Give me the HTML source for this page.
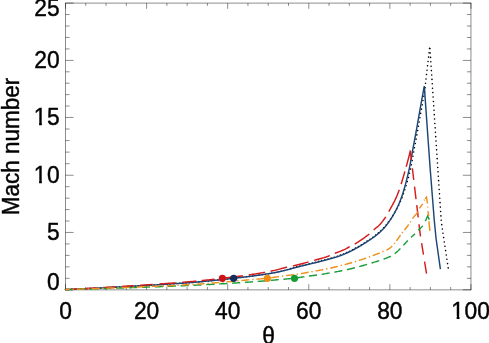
<!DOCTYPE html>
<html><head><meta charset="utf-8"><title>Mach number vs theta</title>
<style>
html,body{margin:0;padding:0;background:#fff;}
body{width:489px;height:343px;overflow:hidden;position:relative;font-family:"Liberation Sans",sans-serif;}
</style></head><body>
<svg width="489" height="343" viewBox="0 0 489 343" style="position:absolute;left:0;top:0">
<g stroke="#000" stroke-width="0.45" fill="none">
<path d="M65.50,2.85V290.10"/>
<path d="M470.95,2.85V290.10"/>
<path d="M65.25,3.10H471.20"/>
<path d="M65.25,289.85H471.20"/>
<path d="M65.50,289.85v-5.70M65.50,3.10v5.70M85.77,289.85v-2.85M85.77,3.10v2.85M106.05,289.85v-2.85M106.05,3.10v2.85M126.32,289.85v-2.85M126.32,3.10v2.85M146.59,289.85v-5.70M146.59,3.10v5.70M166.86,289.85v-2.85M166.86,3.10v2.85M187.13,289.85v-2.85M187.13,3.10v2.85M207.41,289.85v-2.85M207.41,3.10v2.85M227.68,289.85v-5.70M227.68,3.10v5.70M247.95,289.85v-2.85M247.95,3.10v2.85M268.23,289.85v-2.85M268.23,3.10v2.85M288.50,289.85v-2.85M288.50,3.10v2.85M308.77,289.85v-5.70M308.77,3.10v5.70M329.04,289.85v-2.85M329.04,3.10v2.85M349.31,289.85v-2.85M349.31,3.10v2.85M369.59,289.85v-2.85M369.59,3.10v2.85M389.86,289.85v-5.70M389.86,3.10v5.70M410.13,289.85v-2.85M410.13,3.10v2.85M430.40,289.85v-2.85M430.40,3.10v2.85M450.68,289.85v-2.85M450.68,3.10v2.85M470.95,289.85v-5.70M470.95,3.10v5.70M65.50,289.85h8.10M470.95,289.85h-8.10M65.50,278.33h4.05M470.95,278.33h-4.05M65.50,266.86h4.05M470.95,266.86h-4.05M65.50,255.39h4.05M470.95,255.39h-4.05M65.50,243.92h4.05M470.95,243.92h-4.05M65.50,232.45h8.10M470.95,232.45h-8.10M65.50,221.01h4.05M470.95,221.01h-4.05M65.50,209.57h4.05M470.95,209.57h-4.05M65.50,198.13h4.05M470.95,198.13h-4.05M65.50,186.69h4.05M470.95,186.69h-4.05M65.50,175.25h8.10M470.95,175.25h-8.10M65.50,163.69h4.05M470.95,163.69h-4.05M65.50,152.13h4.05M470.95,152.13h-4.05M65.50,140.57h4.05M470.95,140.57h-4.05M65.50,129.01h4.05M470.95,129.01h-4.05M65.50,117.45h8.10M470.95,117.45h-8.10M65.50,106.04h4.05M470.95,106.04h-4.05M65.50,94.63h4.05M470.95,94.63h-4.05M65.50,83.22h4.05M470.95,83.22h-4.05M65.50,71.81h4.05M470.95,71.81h-4.05M65.50,60.40h8.10M470.95,60.40h-8.10M65.50,48.93h4.05M470.95,48.93h-4.05M65.50,37.46h4.05M470.95,37.46h-4.05M65.50,25.99h4.05M470.95,25.99h-4.05M65.50,14.52h4.05M470.95,14.52h-4.05M65.50,3.10h8.10M470.95,3.10h-8.10" stroke-width="0.45"/>
</g>
<path d="M65.40,289.60l0.01,0M68.58,289.47l0.01,0M71.76,289.33l0.01,0M74.94,289.19l0.01,0M78.11,289.04l0.01,0M81.29,288.90l0.01,0M84.47,288.75l0.01,0M87.65,288.60l0.01,0M90.83,288.45l0.01,0M94.00,288.30l0.01,0M97.18,288.14l0.01,0M100.36,287.98l0.01,0M103.54,287.82l0.01,0M106.72,287.66l0.01,0M109.89,287.49l0.01,0M113.07,287.32l0.01,0M116.25,287.15l0.01,0M119.43,286.98l0.01,0M122.60,286.81l0.01,0M125.78,286.63l0.01,0M128.96,286.46l0.01,0M132.14,286.28l0.01,0M135.31,286.10l0.01,0M138.49,285.92l0.01,0M141.67,285.74l0.01,0M144.85,285.56l0.01,0M148.02,285.37l0.01,0M151.20,285.19l0.01,0M154.38,285.00l0.01,0M157.55,284.80l0.01,0M160.73,284.61l0.01,0M163.91,284.41l0.01,0M167.09,284.20l0.01,0M170.26,284.00l0.01,0M173.44,283.78l0.01,0M176.61,283.57l0.01,0M179.79,283.35l0.01,0M182.97,283.12l0.01,0M186.14,282.88l0.01,0M189.32,282.64l0.01,0M192.49,282.40l0.01,0M195.67,282.15l0.01,0M198.84,281.88l0.01,0M202.01,281.60l0.01,0M205.19,281.31l0.01,0M208.36,281.01l0.01,0M211.53,280.69l0.01,0M214.70,280.37l0.01,0M217.87,280.04l0.01,0M221.05,279.70l0.01,0M224.22,279.36l0.01,0M227.39,279.01l0.01,0M230.56,278.65l0.01,0M233.73,278.30l0.01,0M236.89,277.94l0.01,0M240.06,277.57l0.01,0M243.23,277.19l0.01,0M246.40,276.81l0.01,0M249.57,276.41l0.01,0M252.73,276.00l0.01,0M255.90,275.57l0.01,0M259.06,275.13l0.01,0M262.23,274.68l0.01,0M265.39,274.21l0.01,0M268.55,273.71l0.01,0M271.70,273.19l0.01,0M274.86,272.62l0.01,0M278.01,271.99l0.01,0M281.14,271.27l0.01,0M284.27,270.44l0.01,0M287.38,269.57l0.01,0M290.50,268.67l0.01,0M293.61,267.77l0.01,0M296.72,266.86l0.01,0M299.84,265.98l0.01,0M302.97,265.20l0.01,0M306.10,264.44l0.01,0M309.24,263.70l0.01,0M312.37,262.95l0.01,0M315.50,262.19l0.01,0M318.63,261.41l0.01,0M321.76,260.60l0.01,0M324.88,259.78l0.01,0M328.01,258.95l0.01,0M331.13,258.10l0.01,0M334.24,257.20l0.01,0M337.35,256.23l0.01,0M340.43,255.16l0.01,0M343.49,253.96l0.01,0M346.52,252.63l0.01,0M349.53,251.20l0.01,0M352.52,249.71l0.01,0M355.50,248.15l0.01,0M358.45,246.50l0.01,0M361.38,244.77l0.01,0M364.28,242.96l0.01,0M367.16,241.10l0.01,0M370.04,239.21l0.01,0M372.88,237.23l0.01,0M375.68,235.12l0.01,0M378.42,232.89l0.01,0M381.09,230.48l0.01,0M383.65,227.87l0.01,0M386.11,225.06l0.01,0M388.44,222.07l0.01,0M390.69,218.93l0.01,0M392.83,215.67l0.01,0M394.86,212.26l0.01,0M396.83,208.80l0.01,0M398.69,205.22l0.01,0M400.41,201.50l0.01,0M402.00,197.67l0.01,0M403.47,193.75l0.01,0M404.83,189.75l0.01,0M406.09,185.70l0.01,0M407.28,181.60l0.01,0M408.41,177.47l0.01,0M409.49,173.31l0.01,0M410.50,169.12l0.01,0M411.37,164.87l0.01,0M412.16,160.58l0.01,0M412.92,156.29l0.01,0M413.68,152.00l0.01,0M414.46,147.72l0.01,0M415.26,143.44l0.01,0M416.05,139.16l0.01,0M416.85,134.88l0.01,0M417.63,130.59l0.01,0M418.40,126.30l0.01,0M419.16,122.01l0.01,0M419.91,117.72l0.01,0M420.66,113.42l0.01,0M421.42,109.13l0.01,0M422.19,104.84l0.01,0M422.97,100.55l0.01,0M423.75,96.27l0.01,0M424.53,91.99l0.01,0M425.19,87.68l0.01,0M425.51,83.29l0.01,0M426.02,78.93l0.01,0M426.52,74.57l0.01,0M427.03,70.20l0.01,0M427.54,65.84l0.01,0M428.04,61.47l0.01,0M428.55,57.11l0.01,0M429.05,52.75l0.01,0M429.56,48.38l0.01,0M429.95,48.60l0.01,0M430.24,53.00l0.01,0M430.53,57.41l0.01,0M430.82,61.81l0.01,0M431.10,66.21l0.01,0M431.39,70.61l0.01,0M431.68,75.01l0.01,0M431.97,79.42l0.01,0M432.26,83.82l0.01,0M432.54,88.22l0.01,0M432.83,92.62l0.01,0M433.12,97.02l0.01,0M433.41,101.43l0.01,0M433.70,105.83l0.01,0M433.98,110.23l0.01,0M434.27,114.63l0.01,0M434.56,119.03l0.01,0M434.85,123.44l0.01,0M435.14,127.84l0.01,0M435.43,132.24l0.01,0M435.71,136.64l0.01,0M436.00,141.04l0.01,0M436.29,145.45l0.01,0M436.58,149.85l0.01,0M436.87,154.25l0.01,0M437.15,158.65l0.01,0M437.44,163.05l0.01,0M437.73,167.46l0.01,0M438.02,171.86l0.01,0M438.31,176.26l0.01,0M438.59,180.66l0.01,0M438.88,185.07l0.01,0M439.17,189.47l0.01,0M439.46,193.87l0.01,0M439.75,198.27l0.01,0M440.04,202.67l0.01,0M440.32,207.08l0.01,0M440.61,211.48l0.01,0M440.90,215.88l0.01,0M441.19,220.28l0.01,0M441.70,224.64l0.01,0M442.34,228.96l0.01,0M442.99,233.29l0.01,0M443.64,237.62l0.01,0M444.29,241.95l0.01,0M444.94,246.27l0.01,0M445.59,250.60l0.01,0M446.24,254.93l0.01,0M446.89,259.25l0.01,0M447.54,263.58l0.01,0M448.19,267.91l0.01,0" fill="none" stroke="#000" stroke-width="1.60" stroke-linecap="round" stroke-linejoin="miter"/>
<path d="M65.40,289.60 L65.90,289.58 L66.40,289.56 L66.90,289.54 L67.40,289.52 L67.90,289.49 L68.40,289.47 L68.90,289.45 L69.40,289.43 L69.90,289.41 L70.40,289.39 L70.90,289.36 L71.40,289.34 L71.90,289.32 L72.40,289.30 L72.90,289.28 L73.40,289.26 L73.90,289.23 L74.40,289.21 L74.90,289.19 L75.40,289.17 L75.90,289.14 L76.40,289.12 L76.90,289.10 L77.40,289.08 L77.90,289.05 L78.40,289.03 L78.90,289.01 L79.40,288.99 L79.90,288.96 L80.40,288.94 L80.90,288.92 L81.40,288.89 L81.90,288.87 L82.40,288.85 L82.90,288.83 L83.40,288.80 L83.90,288.78 L84.40,288.76 L84.90,288.73 L85.40,288.71 L85.90,288.69 L86.40,288.66 L86.90,288.64 L87.40,288.61 L87.90,288.59 L88.40,288.57 L88.90,288.54 L89.40,288.52 L89.90,288.50 L90.40,288.47 L90.90,288.45 L91.40,288.42 L91.90,288.40 L92.40,288.37 L92.90,288.35 L93.40,288.33 L93.90,288.30 L94.40,288.28 L94.90,288.25 L95.40,288.23 L95.90,288.20 L96.40,288.18 L96.90,288.15 L97.40,288.13 L97.90,288.10 L98.40,288.08 L98.90,288.05 L99.40,288.03 L99.90,288.00 L100.40,287.98 L100.90,287.95 L101.40,287.93 L101.90,287.90 L102.40,287.88 L102.90,287.85 L103.40,287.83 L103.90,287.80 L104.40,287.78 L104.90,287.75 L105.40,287.72 L105.90,287.70 L106.40,287.67 L106.90,287.65 L107.40,287.62 L107.90,287.59 L108.40,287.57 L108.90,287.54 L109.40,287.52 L109.90,287.49 L110.40,287.46 L110.90,287.44 L111.40,287.41 L111.90,287.39 L112.40,287.36 L112.90,287.33 L113.40,287.31 L113.90,287.28 L114.40,287.25 L114.90,287.23 L115.40,287.20 L115.90,287.17 L116.40,287.15 L116.90,287.12 L117.40,287.09 L117.90,287.07 L118.40,287.04 L118.90,287.01 L119.40,286.98 L119.90,286.96 L120.40,286.93 L120.90,286.90 L121.40,286.88 L121.90,286.85 L122.40,286.82 L122.90,286.79 L123.40,286.77 L123.90,286.74 L124.40,286.71 L124.90,286.68 L125.40,286.66 L125.90,286.63 L126.40,286.60 L126.90,286.57 L127.40,286.55 L127.90,286.52 L128.40,286.49 L128.90,286.46 L129.40,286.43 L129.90,286.41 L130.40,286.38 L130.90,286.35 L131.40,286.32 L131.90,286.29 L132.40,286.27 L132.90,286.24 L133.40,286.21 L133.90,286.18 L134.40,286.15 L134.90,286.12 L135.40,286.10 L135.90,286.07 L136.40,286.04 L136.90,286.01 L137.40,285.98 L137.90,285.95 L138.40,285.93 L138.90,285.90 L139.40,285.87 L139.90,285.84 L140.40,285.81 L140.90,285.78 L141.40,285.76 L141.90,285.73 L142.40,285.70 L142.90,285.67 L143.40,285.64 L143.90,285.61 L144.40,285.58 L144.90,285.55 L145.40,285.52 L145.90,285.50 L146.40,285.47 L146.90,285.44 L147.40,285.41 L147.90,285.38 L148.40,285.35 L148.90,285.32 L149.40,285.29 L149.90,285.26 L150.40,285.23 L150.90,285.20 L151.40,285.17 L151.90,285.14 L152.40,285.11 L152.90,285.08 L153.40,285.05 L153.90,285.02 L154.40,284.99 L154.90,284.96 L155.40,284.93 L155.90,284.90 L156.40,284.87 L156.90,284.84 L157.40,284.81 L157.90,284.78 L158.40,284.75 L158.90,284.72 L159.40,284.69 L159.90,284.66 L160.40,284.63 L160.90,284.60 L161.40,284.57 L161.90,284.53 L162.40,284.50 L162.90,284.47 L163.40,284.44 L163.90,284.41 L164.40,284.38 L164.90,284.34 L165.40,284.31 L165.90,284.28 L166.40,284.25 L166.90,284.22 L167.40,284.18 L167.90,284.15 L168.40,284.12 L168.90,284.09 L169.40,284.05 L169.90,284.02 L170.40,283.99 L170.90,283.95 L171.40,283.92 L171.90,283.89 L172.40,283.85 L172.90,283.82 L173.40,283.79 L173.90,283.75 L174.40,283.72 L174.90,283.69 L175.40,283.65 L175.90,283.62 L176.40,283.58 L176.90,283.55 L177.40,283.51 L177.90,283.48 L178.40,283.44 L178.90,283.41 L179.40,283.37 L179.90,283.34 L180.40,283.30 L180.90,283.27 L181.40,283.23 L181.90,283.19 L182.40,283.16 L182.90,283.12 L183.40,283.09 L183.90,283.05 L184.40,283.01 L184.90,282.98 L185.40,282.94 L185.90,282.90 L186.40,282.87 L186.90,282.83 L187.40,282.79 L187.90,282.75 L188.40,282.71 L188.90,282.68 L189.40,282.64 L189.90,282.60 L190.40,282.56 L190.90,282.52 L191.40,282.48 L191.90,282.45 L192.40,282.41 L192.90,282.37 L193.40,282.33 L193.90,282.29 L194.40,282.25 L194.90,282.21 L195.40,282.17 L195.90,282.13 L196.40,282.09 L196.90,282.04 L197.40,282.00 L197.90,281.96 L198.40,281.92 L198.90,281.88 L199.40,281.83 L199.90,281.79 L200.40,281.75 L200.90,281.70 L201.40,281.66 L201.90,281.61 L202.40,281.57 L202.90,281.52 L203.40,281.48 L203.90,281.43 L204.40,281.38 L204.90,281.34 L205.40,281.29 L205.90,281.24 L206.40,281.20 L206.90,281.15 L207.40,281.10 L207.90,281.05 L208.40,281.00 L208.90,280.95 L209.40,280.91 L209.90,280.86 L210.40,280.81 L210.90,280.76 L211.40,280.71 L211.90,280.66 L212.40,280.61 L212.90,280.55 L213.40,280.50 L213.90,280.45 L214.40,280.40 L214.90,280.35 L215.40,280.30 L215.90,280.25 L216.40,280.19 L216.90,280.14 L217.40,280.09 L217.90,280.04 L218.40,279.98 L218.90,279.93 L219.40,279.88 L219.90,279.82 L220.40,279.77 L220.90,279.72 L221.40,279.66 L221.90,279.61 L222.40,279.55 L222.90,279.50 L223.40,279.44 L223.90,279.39 L224.40,279.34 L224.90,279.28 L225.40,279.23 L225.90,279.17 L226.40,279.12 L226.90,279.06 L227.40,279.00 L227.90,278.95 L228.40,278.89 L228.90,278.84 L229.40,278.78 L229.90,278.73 L230.40,278.67 L230.90,278.61 L231.40,278.56 L231.90,278.50 L232.40,278.45 L232.90,278.39 L233.40,278.33 L233.90,278.28 L234.40,278.22 L234.90,278.16 L235.40,278.11 L235.90,278.05 L236.40,277.99 L236.90,277.94 L237.40,277.88 L237.90,277.82 L238.40,277.76 L238.90,277.71 L239.40,277.65 L239.90,277.59 L240.40,277.53 L240.90,277.47 L241.40,277.41 L241.90,277.35 L242.40,277.29 L242.90,277.23 L243.40,277.17 L243.90,277.11 L244.40,277.05 L244.90,276.99 L245.40,276.93 L245.90,276.87 L246.40,276.81 L246.90,276.74 L247.40,276.68 L247.90,276.62 L248.40,276.56 L248.90,276.49 L249.40,276.43 L249.90,276.37 L250.40,276.30 L250.90,276.24 L251.40,276.17 L251.90,276.11 L252.40,276.04 L252.90,275.98 L253.40,275.91 L253.90,275.84 L254.40,275.78 L254.90,275.71 L255.40,275.64 L255.90,275.57 L256.40,275.50 L256.90,275.44 L257.40,275.37 L257.90,275.30 L258.40,275.23 L258.90,275.16 L259.40,275.09 L259.90,275.01 L260.40,274.94 L260.90,274.87 L261.40,274.80 L261.90,274.73 L262.40,274.65 L262.90,274.58 L263.40,274.51 L263.90,274.43 L264.40,274.36 L264.90,274.28 L265.40,274.21 L265.90,274.13 L266.40,274.05 L266.90,273.98 L267.40,273.90 L267.90,273.82 L268.40,273.74 L268.90,273.66 L269.40,273.57 L269.90,273.49 L270.40,273.41 L270.90,273.32 L271.40,273.24 L271.90,273.15 L272.40,273.06 L272.90,272.98 L273.40,272.89 L273.90,272.80 L274.40,272.70 L274.90,272.61 L275.40,272.52 L275.90,272.42 L276.40,272.32 L276.90,272.22 L277.40,272.12 L277.90,272.02 L278.40,271.91 L278.90,271.80 L279.40,271.69 L279.90,271.58 L280.40,271.47 L280.90,271.35 L281.40,271.24 L281.90,271.12 L282.40,271.00 L282.90,270.88 L283.40,270.76 L283.90,270.63 L284.40,270.51 L284.90,270.38 L285.40,270.26 L285.90,270.13 L286.40,270.00 L286.90,269.87 L287.40,269.74 L287.90,269.61 L288.40,269.48 L288.90,269.35 L289.40,269.21 L289.90,269.08 L290.40,268.95 L290.90,268.81 L291.40,268.68 L291.90,268.54 L292.40,268.41 L292.90,268.28 L293.40,268.14 L293.90,268.01 L294.40,267.87 L294.90,267.74 L295.40,267.61 L295.90,267.47 L296.40,267.34 L296.90,267.21 L297.40,267.08 L297.90,266.94 L298.40,266.81 L298.90,266.68 L299.40,266.56 L299.90,266.43 L300.40,266.30 L300.90,266.17 L301.40,266.05 L301.90,265.93 L302.40,265.80 L302.90,265.68 L303.40,265.56 L303.90,265.44 L304.40,265.32 L304.90,265.19 L305.40,265.07 L305.90,264.95 L306.40,264.83 L306.90,264.71 L307.40,264.60 L307.90,264.48 L308.40,264.36 L308.90,264.24 L309.40,264.12 L309.90,264.00 L310.40,263.88 L310.90,263.76 L311.40,263.64 L311.90,263.52 L312.40,263.40 L312.90,263.28 L313.40,263.16 L313.90,263.04 L314.40,262.92 L314.90,262.80 L315.40,262.68 L315.90,262.56 L316.40,262.43 L316.90,262.31 L317.40,262.18 L317.90,262.06 L318.40,261.93 L318.90,261.81 L319.40,261.68 L319.90,261.55 L320.40,261.42 L320.90,261.29 L321.40,261.16 L321.90,261.03 L322.40,260.90 L322.90,260.77 L323.40,260.63 L323.90,260.50 L324.40,260.37 L324.90,260.24 L325.40,260.11 L325.90,259.98 L326.40,259.84 L326.90,259.71 L327.40,259.58 L327.90,259.45 L328.40,259.31 L328.90,259.18 L329.40,259.04 L329.90,258.91 L330.40,258.77 L330.90,258.63 L331.40,258.49 L331.90,258.35 L332.40,258.21 L332.90,258.07 L333.40,257.92 L333.90,257.77 L334.40,257.63 L334.90,257.47 L335.40,257.32 L335.90,257.17 L336.40,257.01 L336.90,256.85 L337.40,256.69 L337.90,256.52 L338.40,256.36 L338.90,256.18 L339.40,256.01 L339.90,255.84 L340.40,255.66 L340.90,255.47 L341.40,255.28 L341.90,255.09 L342.40,254.89 L342.90,254.69 L343.40,254.49 L343.90,254.28 L344.40,254.07 L344.90,253.85 L345.40,253.63 L345.90,253.41 L346.40,253.18 L346.90,252.95 L347.40,252.72 L347.90,252.49 L348.40,252.25 L348.90,252.01 L349.40,251.77 L349.90,251.53 L350.40,251.28 L350.90,251.03 L351.40,250.78 L351.90,250.53 L352.40,250.28 L352.90,250.02 L353.40,249.76 L353.90,249.51 L354.40,249.25 L354.90,248.99 L355.40,248.72 L355.90,248.45 L356.40,248.18 L356.90,247.90 L357.40,247.62 L357.90,247.34 L358.40,247.05 L358.90,246.77 L359.40,246.47 L359.90,246.18 L360.40,245.88 L360.90,245.58 L361.40,245.28 L361.90,244.97 L362.40,244.67 L362.90,244.36 L363.40,244.04 L363.90,243.73 L364.40,243.41 L364.90,243.10 L365.40,242.78 L365.90,242.46 L366.40,242.13 L366.90,241.81 L367.40,241.48 L367.90,241.16 L368.40,240.83 L368.90,240.50 L369.40,240.17 L369.90,239.84 L370.40,239.50 L370.90,239.17 L371.40,238.82 L371.90,238.48 L372.40,238.13 L372.90,237.77 L373.40,237.41 L373.90,237.05 L374.40,236.68 L374.90,236.30 L375.40,235.91 L375.90,235.52 L376.40,235.12 L376.90,234.72 L377.40,234.32 L377.90,233.91 L378.40,233.49 L378.90,233.07 L379.40,232.64 L379.90,232.19 L380.40,231.74 L380.90,231.28 L381.40,230.80 L381.90,230.32 L382.40,229.82 L382.90,229.30 L383.40,228.77 L383.90,228.22 L384.40,227.65 L384.90,227.06 L385.40,226.46 L385.90,225.85 L386.40,225.21 L386.90,224.57 L387.40,223.90 L387.90,223.23 L388.40,222.54 L388.90,221.84 L389.40,221.12 L389.90,220.39 L390.40,219.65 L390.90,218.90 L391.40,218.13 L391.90,217.34 L392.40,216.53 L392.90,215.71 L393.40,214.86 L393.90,213.99 L394.40,213.11 L394.90,212.19 L395.40,211.26 L395.90,210.30 L396.40,209.32 L396.90,208.31 L397.40,207.27 L397.90,206.20 L398.40,205.10 L398.90,203.95 L399.40,202.77 L399.90,201.54 L400.40,200.27 L400.90,198.95 L401.40,197.58 L401.90,196.17 L402.40,194.70 L402.90,193.18 L403.40,191.59 L403.90,189.95 L404.40,188.24 L404.90,186.48 L405.40,184.65 L405.90,182.77 L406.40,180.84 L406.90,178.85 L407.40,176.80 L407.90,174.70 L408.40,172.55 L408.90,170.35 L409.40,168.08 L409.90,165.62 L410.40,163.00 L410.90,160.25 L411.40,157.43 L411.90,154.58 L412.40,151.75 L412.90,149.00 L413.40,146.31 L413.90,143.62 L414.40,140.94 L414.90,138.25 L415.40,135.56 L415.90,132.84 L416.40,130.10 L416.90,127.33 L417.40,124.51 L417.90,121.67 L418.40,118.80 L418.90,115.94 L419.40,113.08 L419.90,110.24 L420.40,107.44 L420.90,104.66 L421.40,101.90 L421.90,99.14 L422.40,96.40 L422.90,93.67 L423.40,90.96 L423.90,88.25 L424.30,86.10 L427.40,130.00 L430.20,169.00 L434.20,219.50 L436.00,238.00 L440.40,269.10" fill="none" stroke="#1b4676" stroke-width="1.45" stroke-linecap="butt" stroke-linejoin="miter"/>
<path d="M65.40,289.60L66.40,289.55L67.40,289.50L68.40,289.45L69.40,289.40L70.40,289.35L71.40,289.30L72.40,289.25L73.40,289.19L74.40,289.14L75.40,289.09L76.40,289.04L77.40,288.98L77.90,288.96M84.57,288.60L85.57,288.55L86.57,288.49L87.57,288.44L88.57,288.38L89.57,288.32L90.57,288.27L91.57,288.21L92.57,288.16L93.57,288.10L94.57,288.04L95.57,287.99L96.57,287.93L96.73,287.92M103.23,287.54L104.23,287.48L105.23,287.42L106.23,287.37L107.23,287.31L108.23,287.25L109.23,287.19L110.23,287.13L111.23,287.07L112.23,287.01L113.23,286.95L114.23,286.88L115.23,286.82L115.40,286.81M122.23,286.39L123.23,286.33L124.23,286.27L125.23,286.20L126.23,286.14L127.23,286.08L128.23,286.01L129.23,285.95L130.23,285.89L131.23,285.82L132.23,285.76L133.23,285.69L133.90,285.65M140.07,285.25L141.07,285.19L142.07,285.12L143.07,285.06L144.07,284.99L145.07,284.93L146.07,284.86L147.07,284.80L148.07,284.73L149.07,284.66L150.07,284.60L151.07,284.53L152.07,284.46L152.57,284.43M159.40,283.96L160.40,283.89L161.40,283.82L162.40,283.75L163.40,283.68L164.40,283.61L165.40,283.54L166.40,283.47L167.40,283.40L168.40,283.32L169.40,283.25L170.40,283.18L171.40,283.10L172.40,283.03L173.40,282.95L174.40,282.88L175.40,282.80L175.73,282.78M182.23,282.27L183.23,282.19L184.23,282.11L185.23,282.03L186.23,281.95L187.23,281.86L188.23,281.78L189.23,281.70L190.23,281.61L191.23,281.53L192.23,281.44L193.23,281.35L194.23,281.27L195.23,281.18L196.23,281.09L196.40,281.07M201.57,280.59L202.57,280.49L203.57,280.39L204.57,280.29L205.57,280.18L206.57,280.08L207.57,279.97L208.57,279.87L209.57,279.76L210.57,279.65L211.57,279.54L212.57,279.43L213.57,279.32L214.40,279.23M222.57,278.28L223.57,278.16L224.57,278.04L225.57,277.92L226.57,277.80L227.57,277.68L228.57,277.56L229.57,277.44L230.57,277.32L231.57,277.20L232.57,277.07L233.57,276.95L234.57,276.82L235.57,276.70L236.57,276.57L237.57,276.44L238.57,276.31L239.57,276.18L240.57,276.05L241.57,275.92L242.57,275.79L242.90,275.74M248.73,274.93L249.73,274.79L250.73,274.64L251.73,274.49L252.73,274.34L253.73,274.19L254.73,274.04L255.73,273.88L256.73,273.73L257.73,273.57L258.73,273.41L259.73,273.24L260.73,273.08L261.73,272.91L262.73,272.73L263.73,272.56L264.73,272.37L265.07,272.31M270.57,271.23L271.57,271.02L272.57,270.81L273.57,270.59L274.57,270.37L275.57,270.15L276.57,269.92L277.57,269.67L278.57,269.41L279.57,269.13L280.57,268.85L281.57,268.57L282.57,268.28L283.57,268.01L284.57,267.73L285.57,267.48L286.57,267.23L287.07,267.12M292.90,265.90L293.90,265.67L294.90,265.44L295.90,265.20L296.90,264.96L297.90,264.72L298.90,264.47L299.90,264.22L300.90,263.96L301.90,263.71L302.90,263.45L303.90,263.18L304.90,262.92L305.90,262.65L306.90,262.39L307.90,262.12L308.57,261.94M314.07,260.37L315.07,260.09L316.07,259.81L317.07,259.55L318.07,259.28L319.07,259.02L320.07,258.75L321.07,258.49L322.07,258.21L323.07,257.92L324.07,257.62L325.07,257.31L326.07,256.98L327.07,256.61L328.07,256.22L329.07,255.80L329.73,255.51M334.73,253.35L335.73,252.97L336.73,252.61L337.73,252.25L338.73,251.89L339.73,251.51L340.73,251.10L341.73,250.68L342.73,250.25L343.73,249.80L344.73,249.33L345.73,248.83L346.73,248.30L347.73,247.75L348.73,247.20L349.73,246.67M354.73,244.06L355.73,243.47L356.73,242.87L357.73,242.25L358.73,241.61L359.73,240.96L360.52,240.44L361.27,239.93L362.02,239.41L362.77,238.89L363.52,238.35L364.27,237.81L365.02,237.26L365.77,236.70L366.52,236.13L367.27,235.55L368.02,234.96L368.77,234.36L369.27,233.94M373.65,229.87L374.40,229.20L375.15,228.59L375.90,228.00L376.65,227.43L377.40,226.84L378.15,226.21L378.90,225.50L379.65,224.73L380.40,223.92L381.15,223.05L381.90,222.15L382.50,221.39L383.10,220.61L383.70,219.80L384.30,218.97L384.90,218.12L385.50,217.24L385.80,216.80M388.82,211.58L389.32,210.65L389.82,209.74L390.32,208.83L390.82,207.93L391.32,207.04L391.82,206.14L392.32,205.23L392.82,204.31L393.32,203.38L393.82,202.43L394.32,201.46L394.82,200.46L395.32,199.44L395.82,198.38L396.26,197.41L396.69,196.44L397.11,195.44L397.54,194.40L397.96,193.34L398.34,192.36L398.71,191.34L399.09,190.29L399.27,189.76M401.12,184.14L401.46,183.07L401.79,181.98L402.12,180.88L402.46,179.77L402.79,178.65L403.12,177.51L403.46,176.37L403.79,175.22L404.10,174.14L404.40,173.09L404.70,172.04L404.90,171.34M406.20,166.75L406.50,165.69L406.80,164.61L407.10,163.51L407.40,162.40L407.70,161.26L408.00,160.12L408.30,158.96L408.58,157.86L408.85,156.79L409.13,155.71L409.40,154.63L409.67,153.53L409.94,152.44L410.21,151.36L410.37,151.60L410.51,152.79L410.65,153.98L410.80,155.17L410.94,156.36L411.08,157.55L411.22,158.74L411.36,159.94M412.36,168.28L412.50,169.47L412.64,170.66L412.78,171.85L412.92,173.04L413.07,174.23L413.21,175.43L413.35,176.62L413.49,177.81L413.63,179.00L413.73,179.79M414.53,186.55L414.67,187.74L414.82,188.93L414.96,190.12L415.10,191.31L415.24,192.50L415.38,193.70L415.52,194.89L415.67,196.08L415.81,197.27L415.95,198.46L416.02,199.06M416.75,205.21L416.90,206.40L417.04,207.60L417.18,208.79L417.32,209.98L417.46,211.17L417.60,212.36L417.75,213.55L417.89,214.74L418.03,215.94L418.17,217.13L418.20,217.33M419.02,224.28L419.17,225.47L419.31,226.66L419.45,227.85L419.59,229.04L419.73,230.23L419.87,231.43L420.02,232.62L420.16,233.81L420.30,235.00L420.49,236.18L420.52,236.38M421.60,243.07L421.79,244.26L421.98,245.44L422.17,246.62L422.36,247.80L422.55,248.98L422.74,250.16L422.93,251.35L423.12,252.53L423.31,253.71L423.46,254.69M424.57,261.59L424.76,262.77L424.95,263.95L425.14,265.13L425.33,266.31L425.52,267.49L425.71,268.68L425.90,269.86L426.09,271.04L426.28,272.22L426.47,273.40L426.50,273.60" fill="none" stroke="#d41c1c" stroke-width="1.45" stroke-linecap="butt" stroke-linejoin="miter"/>
<path d="M65.40,289.60L66.40,289.58L67.40,289.55L68.40,289.52L69.40,289.50L70.40,289.47L71.40,289.45L72.40,289.42L72.73,289.41M77.40,289.29L78.40,289.26L79.40,289.24L80.40,289.21L81.40,289.18L82.40,289.15L83.40,289.13L84.40,289.10L85.40,289.07L85.73,289.06M90.23,288.94L91.23,288.91L92.23,288.88L93.23,288.85L94.23,288.82L95.23,288.79L96.23,288.76L97.23,288.73L98.23,288.70L98.57,288.69M103.23,288.55L104.23,288.52L105.23,288.49L106.23,288.46L107.23,288.43L108.23,288.40L109.23,288.37L110.23,288.34L111.23,288.31L111.40,288.30M116.07,288.15L117.07,288.12L118.07,288.09L119.07,288.06L120.07,288.03L121.07,287.99L122.07,287.96L123.07,287.93L124.07,287.90L124.40,287.89M129.07,287.73L130.07,287.70L131.07,287.66L132.07,287.63L133.07,287.60L134.07,287.56L135.07,287.53L136.07,287.50L137.07,287.46L137.23,287.46M141.90,287.30L142.90,287.26L143.90,287.23L144.90,287.19L145.90,287.16L146.90,287.12L147.90,287.09L148.90,287.05L149.90,287.02L150.07,287.01M154.73,286.85L155.73,286.81L156.73,286.77L157.73,286.74L158.73,286.70L159.73,286.66L160.73,286.63L161.73,286.59L162.73,286.55L163.07,286.54M167.73,286.36L168.73,286.32L169.73,286.28L170.73,286.24L171.73,286.20L172.73,286.16L173.73,286.12L174.73,286.08L175.73,286.04L175.90,286.04M180.57,285.84L181.57,285.80L182.57,285.76L183.57,285.71L184.57,285.67L185.57,285.63L186.57,285.58L187.57,285.54L188.57,285.49L188.73,285.49M193.40,285.27L194.40,285.23L195.40,285.18L196.40,285.13L197.40,285.09L198.40,285.04L199.40,284.99L200.40,284.94L201.40,284.89L201.57,284.88M206.23,284.65L207.23,284.60L208.23,284.55L209.23,284.50L210.23,284.44L211.23,284.39L212.23,284.34L213.23,284.28L214.23,284.23L214.57,284.21M219.23,283.95L220.23,283.90L221.23,283.84L222.23,283.78L223.23,283.73L224.23,283.67L225.23,283.61L226.23,283.55L227.23,283.49L227.40,283.48M232.07,283.20L233.07,283.14L234.07,283.08L235.07,283.01L236.07,282.95L237.07,282.89L238.07,282.82L239.07,282.76L240.07,282.69L240.23,282.68M244.90,282.37L245.90,282.30L246.90,282.24L247.90,282.17L248.90,282.10L249.90,282.03L250.90,281.96L251.90,281.89L252.90,281.82L253.07,281.81M257.73,281.47L258.73,281.39L259.73,281.32L260.73,281.24L261.73,281.17L262.73,281.08L263.73,281.00L264.73,280.91L265.73,280.82L265.90,280.81M270.57,280.38L271.57,280.28L272.57,280.19L273.57,280.10L274.57,280.00L275.57,279.91L276.57,279.82L277.57,279.74L278.57,279.65L278.73,279.64M283.40,279.25L284.40,279.16L285.40,279.08L286.40,278.99L287.40,278.90L288.40,278.81L289.40,278.72L290.40,278.62L291.40,278.52L291.57,278.51M296.23,277.97L297.23,277.83L298.23,277.69L299.23,277.54L300.23,277.38L301.23,277.22L302.23,277.06L303.23,276.90L304.23,276.74L304.40,276.72M308.90,276.07L309.90,275.94L310.90,275.81L311.90,275.69L312.90,275.56L313.90,275.44L314.90,275.31L315.90,275.18L316.90,275.05L317.07,275.03M321.73,274.35L322.73,274.18L323.73,274.01L324.73,273.84L325.73,273.66L326.73,273.48L327.73,273.30L328.73,273.12L329.73,272.95M334.40,272.13L335.40,271.96L336.40,271.78L337.40,271.60L338.40,271.41L339.40,271.22L340.40,271.02L341.40,270.82L342.40,270.61M346.90,269.65L347.90,269.42L348.90,269.19L349.90,268.96L350.90,268.73L351.90,268.49L352.90,268.24L353.90,268.00L354.90,267.75M359.23,266.60L360.23,266.33L361.23,266.05L362.23,265.76L363.23,265.47L364.23,265.18L365.23,264.89L366.23,264.60L367.07,264.35M371.57,263.02L372.57,262.73L373.57,262.43L374.57,262.13L375.57,261.83L376.57,261.52L377.57,261.20L378.57,260.88L379.23,260.67M383.57,259.16L384.57,258.79L385.57,258.43L386.57,258.04L387.57,257.65L388.57,257.22L389.57,256.77L390.57,256.29L390.90,256.12M394.65,253.68L395.40,253.09L396.15,252.47L396.90,251.84L397.65,251.19L398.40,250.51L399.15,249.79L399.90,249.04L400.40,248.53M403.40,245.38L404.15,244.57L404.90,243.75L405.65,242.93L406.40,242.10L407.15,241.29L407.90,240.50M411.02,237.38L411.77,236.69L412.52,236.03L413.27,235.38L414.02,234.71L414.77,234.02L415.02,233.77M418.15,230.35L418.90,229.61L419.65,228.92L420.40,228.25L421.15,227.54L421.90,226.76L422.60,225.92L422.70,225.79M425.32,221.17L425.82,220.15L426.32,219.07L426.76,218.08L427.19,217.09L427.60,216.10L428.11,217.13L428.63,218.16L429.14,219.19L429.40,219.70" fill="none" stroke="#1e9e3c" stroke-width="1.45" stroke-linecap="butt" stroke-linejoin="miter"/>
<path d="M65.40,289.60L66.40,289.57L67.40,289.54L68.40,289.51L69.40,289.48L69.73,289.47M72.57,289.38L73.57,289.35L73.90,289.34M76.90,289.24L77.90,289.21L78.90,289.17L79.90,289.14L80.90,289.11L81.90,289.08L82.90,289.04L83.90,289.01L84.73,288.98M87.57,288.88L88.57,288.85L88.90,288.84M91.73,288.74L92.73,288.71L93.73,288.67L94.73,288.63L95.73,288.60L96.73,288.56L97.73,288.53L98.73,288.49L99.57,288.46M102.57,288.35L103.57,288.32L103.90,288.30M106.73,288.20L107.73,288.16L108.73,288.13L109.73,288.09L110.73,288.05L111.73,288.01L112.73,287.98L113.73,287.94L114.57,287.91M117.57,287.79L118.57,287.75L118.90,287.74M121.73,287.63L122.73,287.59L123.73,287.55L124.73,287.51L125.73,287.47L126.73,287.43L127.73,287.39L128.73,287.35L129.57,287.32M132.57,287.20L133.57,287.16L133.90,287.14M136.73,287.03L137.73,286.99L138.73,286.95L139.73,286.91L140.73,286.87L141.73,286.83L142.73,286.79L143.73,286.75L144.57,286.71M147.57,286.59L148.57,286.55L148.90,286.54M151.73,286.42L152.73,286.38L153.73,286.33L154.73,286.29L155.73,286.25L156.73,286.21L157.73,286.16L158.73,286.12L159.57,286.08M162.57,285.95L163.57,285.91L163.90,285.89M166.73,285.77L167.73,285.72L168.73,285.67L169.73,285.63L170.73,285.58L171.73,285.53L172.73,285.48L173.73,285.44L174.57,285.40M177.40,285.26L178.40,285.21L178.73,285.19M181.73,285.04L182.73,284.98L183.73,284.93L184.73,284.88L185.73,284.82L186.73,284.77L187.73,284.72L188.73,284.66L189.57,284.61M192.40,284.45L193.40,284.39L193.73,284.37M196.73,284.19L197.73,284.13L198.73,284.07L199.73,284.00L200.73,283.94L201.73,283.87L202.73,283.80L203.73,283.73L204.57,283.67M207.40,283.46L208.40,283.39L208.73,283.36M211.57,283.14L212.57,283.06L213.57,282.98L214.57,282.90L215.57,282.82L216.57,282.73L217.57,282.65L218.57,282.57L219.40,282.50M222.40,282.24L223.40,282.15L223.57,282.14M226.57,281.87L227.57,281.78L228.57,281.69L229.57,281.60L230.57,281.51L231.57,281.42L232.57,281.33L233.57,281.24L234.40,281.17M237.23,280.91L238.23,280.82L238.57,280.79M241.40,280.53L242.40,280.44L243.40,280.35L244.40,280.26L245.40,280.17L246.40,280.08L247.40,279.99L248.40,279.90L249.23,279.83M252.23,279.56L253.23,279.47L253.57,279.45M256.40,279.20L257.40,279.12L258.40,279.03L259.40,278.95L260.40,278.87L261.40,278.79L262.40,278.71L263.40,278.64L264.23,278.57M267.07,278.32L268.07,278.22L268.40,278.18M271.23,277.80L272.23,277.65L273.23,277.50L274.23,277.34L275.23,277.17L276.23,277.01L277.23,276.85L278.23,276.69L279.07,276.56M281.90,276.15L282.90,276.01L283.23,275.97M286.07,275.62L287.07,275.50L288.07,275.38L289.07,275.26L290.07,275.14L291.07,275.02L292.07,274.90L293.07,274.77L293.90,274.66M296.73,274.26L297.73,274.11L298.07,274.06M300.90,273.61L301.90,273.44L302.90,273.27L303.90,273.10L304.90,272.92L305.90,272.75L306.90,272.57L307.90,272.39L308.57,272.27M311.40,271.77L312.40,271.59L312.73,271.53M315.57,271.02L316.57,270.84L317.57,270.65L318.57,270.47L319.57,270.28L320.57,270.10L321.57,269.91L322.57,269.71L323.23,269.58M326.07,269.02L327.07,268.82L327.40,268.75M330.23,268.15L331.23,267.93L332.23,267.70L333.23,267.47L334.23,267.23L335.23,266.99L336.23,266.75L337.23,266.50L337.73,266.37M340.57,265.66L341.57,265.40L341.90,265.31M344.57,264.62L345.57,264.35L346.57,264.09L347.57,263.81L348.57,263.54L349.57,263.26L350.57,262.98L351.57,262.70L352.07,262.55M354.90,261.72L355.90,261.42L356.07,261.37M358.90,260.48L359.90,260.16L360.90,259.84L361.90,259.51L362.90,259.18L363.90,258.84L364.90,258.50L365.90,258.16L366.07,258.10M368.90,257.09L369.90,256.73L370.07,256.67M372.73,255.68L373.73,255.29L374.73,254.91L375.73,254.52L376.73,254.12L377.73,253.71L378.73,253.30L379.73,252.88L379.90,252.81M382.40,251.72L383.40,251.28L383.57,251.21M386.23,250.04L387.23,249.56L388.23,249.04L389.23,248.46L390.15,247.86L390.90,247.29L391.65,246.60L392.27,245.97M394.15,243.89L394.90,243.00M396.50,240.86L397.10,240.00L397.70,239.12L398.30,238.25L398.90,237.37L399.50,236.52L400.10,235.70L400.50,235.17M402.10,233.10L402.70,232.33L402.90,232.08M404.50,230.06L405.10,229.29L405.70,228.52L406.30,227.74L406.90,226.94L407.50,226.13L408.10,225.31L408.70,224.48M410.30,222.24L410.90,221.39M412.45,218.60L418.20,211.60M419.40,208.40L422.70,203.90M424.00,200.50L424.50,199.70M425.10,198.90L426.50,197.20L427.40,203.50M427.65,206.60L427.75,207.50M427.95,211.20L428.65,216.10M428.90,221.20L429.90,230.90" fill="none" stroke="#ee901c" stroke-width="1.45" stroke-linecap="butt" stroke-linejoin="miter"/>
<circle cx="222.4" cy="278.3" r="3.6" fill="#cc1212"/>
<circle cx="233.7" cy="278.3" r="3.6" fill="#14305a"/>
<circle cx="267.3" cy="278.3" r="3.6" fill="#f08c12"/>
<circle cx="294.5" cy="278.3" r="3.6" fill="#189a34"/>
<defs><clipPath id="noFoot" clipPathUnits="userSpaceOnUse"><path d="M-2,-24H16V-2.7H8.6V0.8H5.65V-2.7H-2Z"/></clipPath></defs>
<g font-family="'Liberation Sans', sans-serif" font-size="24.1px" fill="#000" stroke="#000" stroke-width="0.45" opacity="0.995">
<text transform="translate(65.50,318.50) scale(0.946,1)" text-anchor="middle">0</text>
<text transform="translate(146.59,318.50) scale(0.946,1)" text-anchor="middle">20</text>
<text transform="translate(227.68,318.50) scale(0.946,1)" text-anchor="middle">40</text>
<text transform="translate(308.77,318.50) scale(0.946,1)" text-anchor="middle">60</text>
<text transform="translate(389.86,318.50) scale(0.946,1)" text-anchor="middle">80</text>
<text transform="translate(451.33,318.50) scale(0.946,1)" clip-path="url(#noFoot)">1</text><text transform="translate(464.61,318.50) scale(0.946,1)">00</text>
<text transform="translate(59.70,290.10) scale(0.946,1)" text-anchor="end">0</text>
<text transform="translate(59.70,240.40) scale(0.946,1)" text-anchor="end">5</text>
<text transform="translate(33.74,183.20) scale(0.946,1)" clip-path="url(#noFoot)">1</text><text transform="translate(47.02,183.20) scale(0.946,1)">0</text>
<text transform="translate(33.74,125.40) scale(0.946,1)" clip-path="url(#noFoot)">1</text><text transform="translate(47.02,125.40) scale(0.946,1)">5</text>
<text transform="translate(59.70,68.35) scale(0.946,1)" text-anchor="end">20</text>
<text transform="translate(59.70,16.40) scale(0.946,1)" text-anchor="end">25</text>
<text transform="translate(268.70,343.60) scale(0.946,1)" text-anchor="middle">&#952;</text>
<text transform="translate(18.90,146.50) rotate(-90) scale(0.934,1)" text-anchor="middle">Mach number</text>
</g>
</svg>
</body></html>
